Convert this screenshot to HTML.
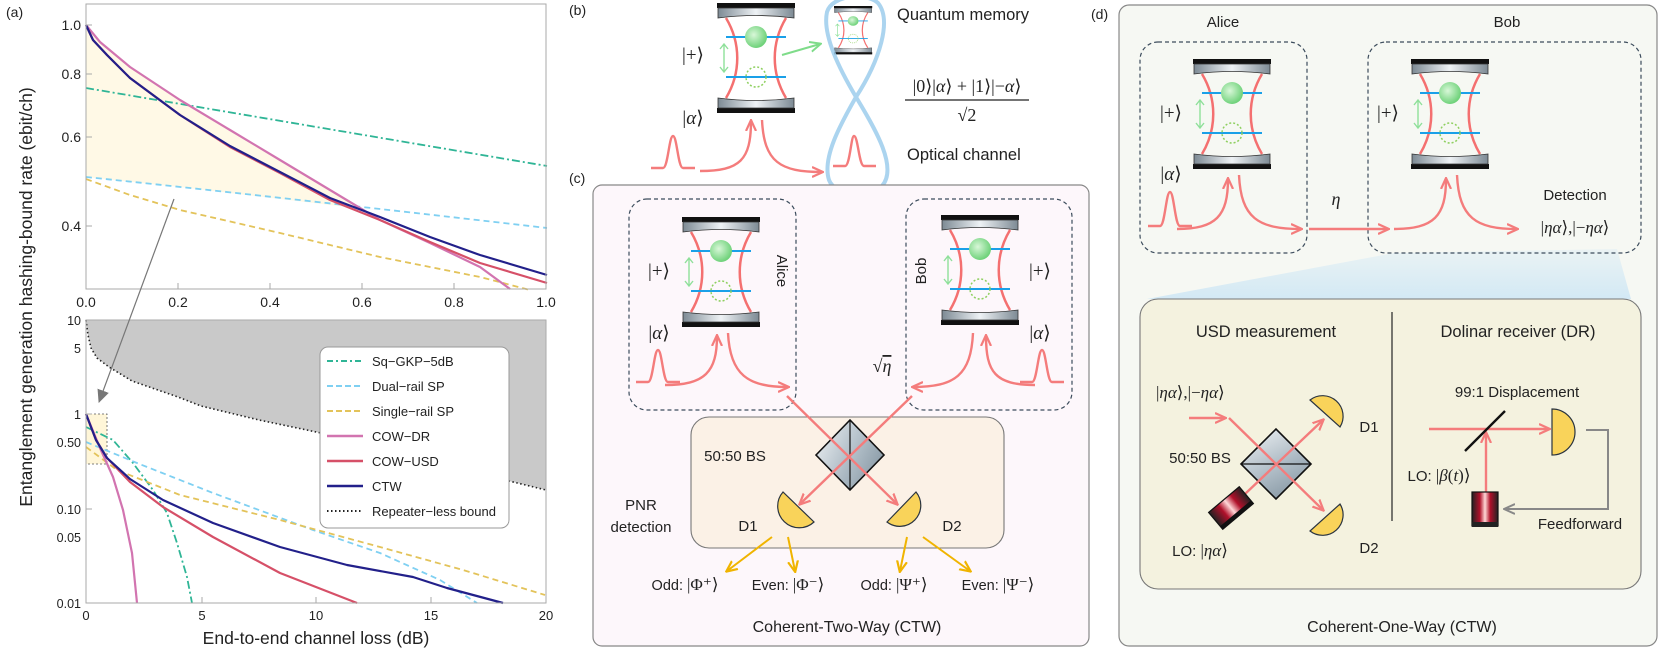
<!DOCTYPE html>
<html><head><meta charset="utf-8"><style>
html,body{margin:0;padding:0;background:#fff}
svg{display:block}
text{font-family:"Liberation Sans","DejaVu Sans",sans-serif;fill:#222}
.m{font-family:"Liberation Serif","DejaVu Serif",serif}
</style></head><body>
<svg width="1662" height="652" viewBox="0 0 1662 652" xmlns="http://www.w3.org/2000/svg">
<defs>
<linearGradient id="mir" x1="0" y1="0" x2="1" y2="0">
<stop offset="0" stop-color="#7d8a94"/><stop offset="0.5" stop-color="#eef2f5"/><stop offset="1" stop-color="#7d8a94"/></linearGradient>
<radialGradient id="ball" cx="0.4" cy="0.4" r="0.6"><stop offset="0" stop-color="#d8f7d8"/><stop offset="1" stop-color="#6fd27a"/></radialGradient>
<linearGradient id="bsl" x1="0" y1="0" x2="1" y2="1"><stop offset="0" stop-color="#f2f5f7"/><stop offset="1" stop-color="#9aaab6"/></linearGradient>
<linearGradient id="bsr" x1="0" y1="0" x2="1" y2="1"><stop offset="0" stop-color="#c8d3db"/><stop offset="1" stop-color="#7b8d9a"/></linearGradient>
<linearGradient id="las" x1="0" y1="0" x2="1" y2="0"><stop offset="0" stop-color="#222"/><stop offset="0.3" stop-color="#b0102a"/><stop offset="0.5" stop-color="#ffd8d8"/><stop offset="0.7" stop-color="#b0102a"/><stop offset="1" stop-color="#222"/></linearGradient>
<linearGradient id="wedge" x1="0" y1="0" x2="0" y2="1"><stop offset="0" stop-color="#cfe7f5" stop-opacity="0.3"/><stop offset="1" stop-color="#cfe7f5" stop-opacity="0.9"/></linearGradient>
<marker id="ar" markerWidth="12" markerHeight="12" refX="10" refY="6" orient="auto" markerUnits="userSpaceOnUse"><path d="M0,1 L11,6 L0,11" fill="none" stroke="#f47c7c" stroke-width="2.2"/></marker>
<marker id="ay" markerWidth="12" markerHeight="12" refX="10" refY="6" orient="auto" markerUnits="userSpaceOnUse"><path d="M0,1 L11,6 L0,11" fill="none" stroke="#f0b400" stroke-width="2.2"/></marker>
<marker id="ag" markerWidth="12" markerHeight="12" refX="10" refY="6" orient="auto" markerUnits="userSpaceOnUse"><path d="M0,1 L11,6 L0,11" fill="none" stroke="#888" stroke-width="2"/></marker>
<marker id="agr" markerWidth="12" markerHeight="12" refX="10" refY="6" orient="auto" markerUnits="userSpaceOnUse"><path d="M0,1 L11,6 L0,11" fill="none" stroke="#7fdc8a" stroke-width="2"/></marker>
<marker id="agp" markerWidth="14" markerHeight="14" refX="12" refY="7" orient="auto" markerUnits="userSpaceOnUse"><path d="M0,1 L13,7 L0,13 Z" fill="#777"/></marker>
<g id="cav">
<rect x="0" y="0" width="78" height="5" fill="#111"/>
<path d="M1,5 H77 V15 Q39,10 1,15 Z" fill="url(#mir)" stroke="#333" stroke-width="0.8"/>
<rect x="0" y="105" width="78" height="5" fill="#111"/>
<path d="M1,105 H77 V95 Q39,100 1,95 Z" fill="url(#mir)" stroke="#333" stroke-width="0.8"/>
<path d="M9,15 C24,40 24,70 9,95 M69,15 C54,40 54,70 69,95" fill="none" stroke="#f47070" stroke-width="2.5"/>
<line x1="9" y1="34" x2="69" y2="34" stroke="#1aa0e8" stroke-width="2"/>
<line x1="9" y1="74" x2="69" y2="74" stroke="#1aa0e8" stroke-width="2"/>
<circle cx="39" cy="34" r="11" fill="url(#ball)"/>
<circle cx="39" cy="74" r="10" fill="none" stroke="#8fd060" stroke-width="1.5" stroke-dasharray="2 2"/>
<path d="M7,42 V68 M3,46 L7,41 L11,46 M3,64 L7,69 L11,64" fill="none" stroke="#8fe09a" stroke-width="1.4"/>
</g>
</defs>

<!-- ================= (a) ================= -->
<text x="6" y="17" font-size="14">(a)</text>
<text transform="translate(32,297) rotate(-90)" text-anchor="middle" font-size="17.5">Entanglement generation hashing-bound rate (ebit/ch)</text>
<polygon points="86,25 100,42 130,67 180,100 230,130 280,160 330,190 360,207 347,207 180,187 86,177" fill="#fff9e6"/>
<g fill="none" stroke-width="2.2" stroke-linejoin="round">
<path d="M86,88 L547,166" stroke="#2fb596" stroke-dasharray="8 3 2 3" stroke-width="1.8"/>
<path d="M86,177 Q260,195 547,228" stroke="#7fd0f2" stroke-dasharray="6 4" stroke-width="1.8"/>
<path d="M86,179 L130,195 L180,210 L280,233 L380,257 L480,277 L530,290" stroke="#e3c35a" stroke-dasharray="6 4" stroke-width="1.8"/>
<path d="M86,25 L100,42 L130,67 L180,100 L230,130 L280,160 L330,190 L380,220 L430,243 L480,267 L510,289" stroke="#d274b0"/>
<path d="M86,25 L93,40 L107,55 L130,78 L180,115 L230,147 L280,173 L330,200 L380,220 L430,242 L480,263 L547,283" stroke="#d65068"/>
<path d="M86,25 L93,40 L107,55 L130,78 L180,115 L230,146 L280,172 L330,198 L380,217 L430,237 L480,255 L547,275" stroke="#22208a"/>
</g>
<rect x="86" y="4" width="460" height="285" fill="none" stroke="#aaa" stroke-width="1"/>
<g stroke="#aaa"><line x1="86" y1="25" x2="92" y2="25"/><line x1="86" y1="74" x2="92" y2="74"/><line x1="86" y1="137" x2="92" y2="137"/><line x1="86" y1="226" x2="92" y2="226"/>
<line x1="178" y1="289" x2="178" y2="283"/><line x1="270" y1="289" x2="270" y2="283"/><line x1="362" y1="289" x2="362" y2="283"/><line x1="454" y1="289" x2="454" y2="283"/></g>
<g font-size="14" text-anchor="end"><text x="81" y="30">1.0</text><text x="81" y="79">0.8</text><text x="81" y="142">0.6</text><text x="81" y="231">0.4</text></g>
<g font-size="14" text-anchor="middle"><text x="86" y="307">0.0</text><text x="178" y="307">0.2</text><text x="270" y="307">0.4</text><text x="362" y="307">0.6</text><text x="454" y="307">0.8</text><text x="546" y="307">1.0</text></g>
<!-- bottom plot -->
<path d="M86,320 L88,335 L91,348 L97,358 L109,367 L132,381 L178,397 L201,406 L259,420 L321,433 L431,462 L546,490 L546,320 Z" fill="#c9c9c9"/>
<path d="M86,320 L88,335 L91,348 L97,358 L109,367 L132,381 L178,397 L201,406 L259,420 L321,433 L431,462 L546,490" fill="none" stroke="#222" stroke-width="1.6" stroke-dasharray="1.5 2.5"/>
<rect x="86" y="414" width="21" height="50" fill="#fff6d8" stroke="#555" stroke-width="0.8" stroke-dasharray="2 2"/>
<g fill="none" stroke-width="2.2" stroke-linejoin="round">
<path d="M86,427 L113,440 L133,463 L153,490 L167,513 L177,543 L187,577 L192,603" stroke="#2fb596" stroke-dasharray="8 3 2 3" stroke-width="1.8"/>
<path d="M86,442 L137,463 L213,493 L313,530 L380,553 L440,580 L477,603" stroke="#7fd0f2" stroke-dasharray="6 4" stroke-width="1.8"/>
<path d="M86,447 L117,470 L180,495 L280,520 L380,547 L463,570 L545,595" stroke="#e3c35a" stroke-dasharray="6 4" stroke-width="1.8"/>
<path d="M86,414 L100,448 L113,477 L123,510 L132,553 L137,603" stroke="#d274b0"/>
<path d="M86,414 L96,440 L107,458 L130,482 L163,507 L213,537 L280,573 L357,603" stroke="#d65068"/>
<path d="M86,414 L96,440 L107,458 L130,479 L163,500 L213,523 L280,547 L347,565 L413,577 L447,588 L503,603" stroke="#22208a"/>
</g>
<rect x="86" y="320" width="460" height="283" fill="none" stroke="#aaa" stroke-width="1"/>
<g stroke="#aaa"><line x1="202" y1="603" x2="202" y2="597"/><line x1="316" y1="603" x2="316" y2="597"/><line x1="431" y1="603" x2="431" y2="597"/>
<line x1="86" y1="414" x2="92" y2="414"/><line x1="86" y1="509" x2="92" y2="509"/></g>
<g font-size="12.5" text-anchor="end"><text x="81" y="325">10</text><text x="81" y="353">5</text><text x="81" y="419">1</text><text x="81" y="447">0.50</text><text x="81" y="514">0.10</text><text x="81" y="542">0.05</text><text x="81" y="608">0.01</text></g>
<g font-size="13" text-anchor="middle"><text x="86" y="620">0</text><text x="202" y="620">5</text><text x="316" y="620">10</text><text x="431" y="620">15</text><text x="546" y="620">20</text></g>
<text x="316" y="644" text-anchor="middle" font-size="17.5">End-to-end channel loss (dB)</text>
<line x1="174" y1="199" x2="99" y2="402" stroke="#777" stroke-width="1.2" marker-end="url(#agp)"/>
<rect x="320" y="347" width="189" height="181" rx="8" fill="#fff" stroke="#999"/>
<g stroke-width="2" fill="none">
<line x1="327" y1="361" x2="363" y2="361" stroke="#2fb596" stroke-dasharray="6 3 2 3"/>
<line x1="327" y1="386" x2="363" y2="386" stroke="#7fd0f2" stroke-dasharray="6 3"/>
<line x1="327" y1="411" x2="363" y2="411" stroke="#e3c35a" stroke-dasharray="6 3"/>
<line x1="327" y1="436" x2="363" y2="436" stroke="#d274b0" stroke-width="2.4"/>
<line x1="327" y1="461" x2="363" y2="461" stroke="#d65068" stroke-width="2.4"/>
<line x1="327" y1="486" x2="363" y2="486" stroke="#22208a" stroke-width="2.4"/>
<line x1="327" y1="511" x2="363" y2="511" stroke="#222" stroke-dasharray="1.5 2.5"/>
</g>
<g font-size="13"><text x="372" y="366">Sq−GKP−5dB</text><text x="372" y="391">Dual−rail SP</text><text x="372" y="416">Single−rail SP</text><text x="372" y="441">COW−DR</text><text x="372" y="466">COW−USD</text><text x="372" y="491">CTW</text><text x="372" y="516">Repeater−less bound</text></g>

<!-- ================= (b) ================= -->
<text x="569" y="15" font-size="14">(b)</text>
<use href="#cav" x="717" y="3"/>
<g transform="translate(834,6) scale(0.49,0.44)"><use href="#cav"/></g>
<path d="M856,97 C880,60 892,20 878,3 C866,-8 832,-5 827,12 C822,35 840,70 856,97 C876,130 898,168 882,186 C868,198 835,196 829,180 C822,158 840,125 856,97" fill="none" stroke="#9cccec" stroke-width="4" stroke-opacity="0.85"/>
<line x1="782" y1="55" x2="820" y2="44" stroke="#7fdc8a" stroke-width="2" marker-end="url(#agr)"/>
<text x="693" y="61" class="m" font-size="19" text-anchor="middle">|+⟩</text>
<text x="693" y="124" class="m" font-size="19" text-anchor="middle">|<tspan font-style="italic">α</tspan>⟩</text>
<text x="897" y="20" font-size="16.5">Quantum memory</text>
<text x="967" y="92" class="m" font-size="18" text-anchor="middle">|0⟩|<tspan font-style="italic">α</tspan>⟩ + |1⟩|−<tspan font-style="italic">α</tspan>⟩</text>
<line x1="905" y1="100" x2="1029" y2="100" stroke="#222" stroke-width="1.2"/>
<text x="967" y="121" class="m" font-size="18" text-anchor="middle">√2</text>
<text x="907" y="160" font-size="16.5">Optical channel</text>
<g fill="none" stroke="#f47c7c" stroke-width="2.4">
<path d="M651,168 H663 C668,168 669,136 673,136 C677,136 678,168 683,168 H695"/>
<path d="M700,171 C740,171 751,160 751,121" marker-end="url(#ar)"/>
<path d="M762,120 C764,162 780,172 822,172" marker-end="url(#ar)"/>
<path d="M833,166 H845 C850,166 851,136 854,136 C858,136 859,166 864,166 H876"/>
</g>

<!-- ================= (c) ================= -->
<text x="569" y="183" font-size="14">(c)</text>
<rect x="593" y="185" width="496" height="461" rx="9" fill="#fdf7fb" stroke="#888" stroke-width="1.2"/>
<rect x="629" y="199" width="167" height="211" rx="18" fill="none" stroke="#3c4c5c" stroke-width="1.2" stroke-dasharray="4 3"/>
<rect x="906" y="199" width="166" height="211" rx="18" fill="none" stroke="#3c4c5c" stroke-width="1.2" stroke-dasharray="4 3"/>
<use href="#cav" x="682" y="217"/>
<use href="#cav" x="941" y="215"/>
<text x="659" y="277" class="m" font-size="19" text-anchor="middle">|+⟩</text>
<text x="659" y="339" class="m" font-size="19" text-anchor="middle">|<tspan font-style="italic">α</tspan>⟩</text>
<text x="1040" y="277" class="m" font-size="19" text-anchor="middle">|+⟩</text>
<text x="1040" y="339" class="m" font-size="19" text-anchor="middle">|<tspan font-style="italic">α</tspan>⟩</text>
<text transform="translate(777,271) rotate(90)" font-size="15" text-anchor="middle">Alice</text>
<text transform="translate(926,271) rotate(-90)" font-size="15" text-anchor="middle">Bob</text>
<text x="882" y="372" class="m" font-size="18" text-anchor="middle">√<tspan font-style="italic" text-decoration="overline">η</tspan></text>
<rect x="691" y="417" width="313" height="131" rx="18" fill="#fbf1e6" stroke="#777" stroke-width="1.1"/>
<g fill="none" stroke="#f47c7c" stroke-width="2.4">
<path d="M636,382 H648 C653,382 654,350 658,350 C662,350 663,382 668,382 H680"/>
<path d="M665,385 C705,385 717,372 717,336" marker-end="url(#ar)"/>
<path d="M728,333 C730,375 748,387 788,387" marker-end="url(#ar)"/>
<path d="M1020,382 H1032 C1037,382 1038,350 1042,350 C1046,350 1047,382 1052,382 H1064"/>
<path d="M1035,385 C995,385 986,372 986,336" marker-end="url(#ar)"/>
<path d="M973,333 C971,375 955,387 913,387" marker-end="url(#ar)"/>
</g>
<polygon points="816,455 850,420 850,490" fill="url(#bsl)"/>
<polygon points="850,420 884,455 850,490" fill="url(#bsr)"/>
<polygon points="816,455 850,420 884,455 850,490" fill="none" stroke="#111" stroke-width="1.6"/>
<line x1="850" y1="420" x2="850" y2="490" stroke="#111" stroke-width="1.2"/>
<g stroke="#f47c7c" stroke-width="2.4"><line x1="787" y1="396" x2="897" y2="504" marker-end="url(#ar)"/><line x1="912" y1="396" x2="800" y2="504" marker-end="url(#ar)"/></g>
<text x="735" y="461" font-size="15" text-anchor="middle">50:50 BS</text>
<text x="641" y="510" font-size="15" text-anchor="middle">PNR</text>
<text x="641" y="532" font-size="15" text-anchor="middle">detection</text>
<path d="M783,492 A21.6,21.6 0 0 0 814,522 Z" fill="#f9d35a" stroke="#2a3440" stroke-width="1.2"/>
<path d="M887,522 A21,21 0 0 0 916,492 Z" fill="#f9d35a" stroke="#2a3440" stroke-width="1.2"/>
<text x="748" y="531" font-size="15" text-anchor="middle">D1</text>
<text x="952" y="531" font-size="15" text-anchor="middle">D2</text>
<g stroke="#f0b400" stroke-width="2"><line x1="772" y1="537" x2="727" y2="571" marker-end="url(#ay)"/><line x1="788" y1="537" x2="795" y2="571" marker-end="url(#ay)"/><line x1="907" y1="537" x2="900" y2="571" marker-end="url(#ay)"/><line x1="923" y1="537" x2="970" y2="571" marker-end="url(#ay)"/></g>
<g font-size="14.5" text-anchor="middle"><text x="685" y="590">Odd: <tspan class="m" font-size="17">|Φ⁺⟩</tspan></text><text x="788" y="590">Even: <tspan class="m" font-size="17">|Φ⁻⟩</tspan></text><text x="894" y="590">Odd: <tspan class="m" font-size="17">|Ψ⁺⟩</tspan></text><text x="998" y="590">Even: <tspan class="m" font-size="17">|Ψ⁻⟩</tspan></text></g>
<text x="847" y="632" font-size="16" text-anchor="middle">Coherent-Two-Way (CTW)</text>

<!-- ================= (d) ================= -->
<text x="1091" y="19" font-size="14">(d)</text>
<rect x="1119" y="5" width="538" height="641" rx="10" fill="#f6f8f3" stroke="#888" stroke-width="1.2"/>
<text x="1223" y="27" font-size="15" text-anchor="middle">Alice</text>
<text x="1507" y="27" font-size="15" text-anchor="middle">Bob</text>
<polygon points="1394,253 1617,249 1631,299 1147,299" fill="url(#wedge)"/>
<rect x="1140" y="42" width="167" height="211" rx="18" fill="none" stroke="#3c4c5c" stroke-width="1.2" stroke-dasharray="4 3"/>
<rect x="1368" y="42" width="273" height="211" rx="18" fill="none" stroke="#3c4c5c" stroke-width="1.2" stroke-dasharray="4 3"/>
<use href="#cav" x="1193" y="59"/>
<use href="#cav" x="1411" y="59"/>
<text x="1171" y="119" class="m" font-size="19" text-anchor="middle">|+⟩</text>
<text x="1171" y="180" class="m" font-size="19" text-anchor="middle">|<tspan font-style="italic">α</tspan>⟩</text>
<text x="1388" y="119" class="m" font-size="19" text-anchor="middle">|+⟩</text>
<text x="1336" y="205" class="m" font-size="18" font-style="italic" text-anchor="middle">η</text>
<text x="1575" y="200" font-size="15" text-anchor="middle">Detection</text>
<text x="1575" y="233" class="m" font-size="17" text-anchor="middle">|<tspan font-style="italic">ηα</tspan>⟩,|−<tspan font-style="italic">ηα</tspan>⟩</text>
<g fill="none" stroke="#f47c7c" stroke-width="2.4">
<path d="M1148,226 H1160 C1165,226 1166,192 1170,192 C1174,192 1175,226 1180,226 H1192"/>
<path d="M1177,229 C1216,229 1228,216 1228,179" marker-end="url(#ar)"/>
<path d="M1239,175 C1241,218 1258,229 1301,229" marker-end="url(#ar)"/>
<line x1="1309" y1="229" x2="1388" y2="229" marker-end="url(#ar)"/>
<path d="M1394,229 C1434,229 1446,216 1446,179" marker-end="url(#ar)"/>
<path d="M1457,175 C1459,218 1476,229 1517,229" marker-end="url(#ar)"/>
</g>
<rect x="1140" y="299" width="501" height="290" rx="18" fill="#f4f2df" stroke="#777" stroke-width="1.1"/>
<line x1="1392" y1="312" x2="1392" y2="521" stroke="#333" stroke-width="1.3"/>
<text x="1266" y="337" font-size="16.5" text-anchor="middle">USD measurement</text>
<text x="1518" y="337" font-size="16.5" text-anchor="middle">Dolinar receiver (DR)</text>
<text x="1156" y="398" class="m" font-size="17">|<tspan font-style="italic">ηα</tspan>⟩,|−<tspan font-style="italic">ηα</tspan>⟩</text>
<polygon points="1241,464 1276,429 1311,464" fill="url(#bsl)"/>
<polygon points="1241,464 1311,464 1276,499" fill="url(#bsr)"/>
<polygon points="1241,464 1276,429 1311,464 1276,499" fill="none" stroke="#111" stroke-width="1.6"/>
<line x1="1241" y1="464" x2="1311" y2="464" stroke="#111" stroke-width="1.2"/>
<g stroke="#f47c7c" stroke-width="2.4"><line x1="1189" y1="418" x2="1225" y2="418" marker-end="url(#ar)"/><line x1="1229" y1="418" x2="1323" y2="510" marker-end="url(#ar)"/><line x1="1245" y1="494" x2="1323" y2="420" marker-end="url(#ar)"/></g>
<g transform="translate(1231,508) rotate(-40)"><rect x="-20" y="-11" width="40" height="22" fill="url(#las)" stroke="#111" stroke-width="1.2"/><rect x="-20" y="7" width="40" height="4" fill="#111"/></g>
<text x="1200" y="463" font-size="15" text-anchor="middle">50:50 BS</text>
<text x="1200" y="556" font-size="15" text-anchor="middle">LO: <tspan class="m" font-size="17">|<tspan font-style="italic">ηα</tspan>⟩</tspan></text>
<path d="M1310,400 A20.5,20.5 0 0 1 1340,427 Z" fill="#f9d35a" stroke="#2a3440" stroke-width="1.2"/>
<path d="M1310,531 A20.5,20.5 0 0 0 1340,504 Z" fill="#f9d35a" stroke="#2a3440" stroke-width="1.2"/>
<text x="1369" y="432" font-size="15" text-anchor="middle">D1</text>
<text x="1369" y="553" font-size="15" text-anchor="middle">D2</text>
<text x="1517" y="397" font-size="15" text-anchor="middle">99:1 Displacement</text>
<g stroke="#f47c7c" stroke-width="2.4"><line x1="1429" y1="429" x2="1549" y2="429" marker-end="url(#ar)"/><line x1="1486" y1="492" x2="1486" y2="433" marker-end="url(#ar)"/></g>
<line x1="1465" y1="451" x2="1505" y2="411" stroke="#111" stroke-width="2.4"/>
<path d="M1552,409 A23,23 0 0 1 1552,455 Z" fill="#f9d35a" stroke="#2a3440" stroke-width="1.2"/>
<polyline points="1586,430 1608,430 1608,509 1505,509" fill="none" stroke="#888" stroke-width="2" marker-end="url(#ag)"/>
<rect x="1472" y="492" width="26" height="34" fill="url(#las)" stroke="#111" stroke-width="1.2"/>
<rect x="1472" y="522" width="26" height="5" fill="#222"/>
<text x="1439" y="481" font-size="15" text-anchor="middle">LO: <tspan class="m" font-size="17">|<tspan font-style="italic">β</tspan>(<tspan font-style="italic">t</tspan>)⟩</tspan></text>
<text x="1580" y="529" font-size="15" text-anchor="middle">Feedforward</text>
<text x="1402" y="632" font-size="16" text-anchor="middle">Coherent-One-Way (CTW)</text>
</svg>
</body></html>
